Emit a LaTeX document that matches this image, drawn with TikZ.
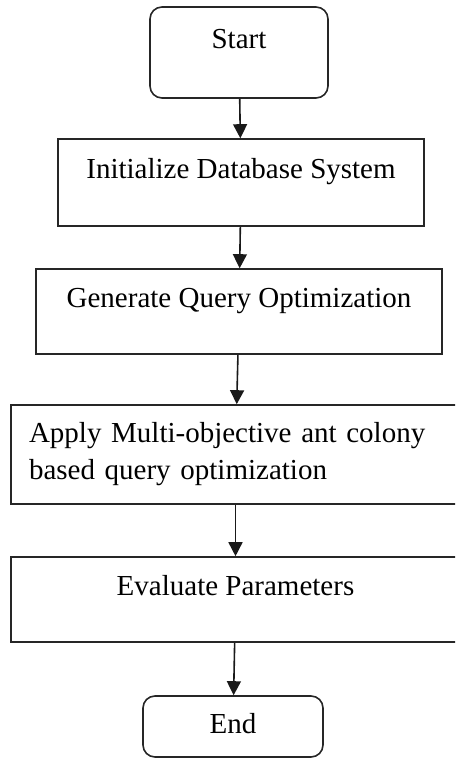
\documentclass[tikz,border=0pt]{standalone}
\usepackage{fontspec}
\setmainfont{Liberation Serif}
\usetikzlibrary{arrows.meta}

\begin{document}
\begin{tikzpicture}[x=0.5pt, y=-0.5pt,
            font=\fontsize{14.5}{18.5}\selectfont,
            stepbox/.style={draw=black!85, line width=0.8pt, rectangle, text height=11pt, text depth=15pt},
            termbox/.style={stepbox, rounded corners=6pt},
            flow/.style={draw=black!90, line width=0.8pt, -{Triangle[length=7pt,width=7pt]}}]
            \useasboundingbox (0, 0) rectangle (455, 758);
            \clip (0, 0) rectangle (455, 758);
            \node[termbox, minimum width=89pt, minimum height=45.5pt] (start) at (239, 52.5) {Start};
            \node[stepbox, minimum width=183pt, minimum height=43.5pt] (init) at (241, 182.5) {Initialize Database System};
            \node[stepbox, minimum width=203pt, minimum height=42.5pt] (gen) at (239, 311.5) {Generate Query Optimization};
            \node[stepbox, minimum width=224.5pt, minimum height=49.5pt, text height=, text depth=, align=left,
                  text width=206.5pt, inner xsep=9pt] (apply) at (235.5, 454.5)
                {Apply Multi-objective ant colony\\based query optimization};
            \node[stepbox, minimum width=224.5pt, minimum height=42.5pt] (eval) at (235.5, 599.5) {Evaluate Parameters};
            \node[termbox, minimum width=90pt, minimum height=30.5pt, text depth=4pt] (stop) at (233, 726.5) {End};
            \draw[flow] (start) -- (init);
            \draw[flow] (init) -- (gen);
            \draw[flow] (gen) -- (apply);
            \draw[flow] (apply) -- (eval);
            \draw[flow] (eval) -- (stop);
        \end{tikzpicture}
\end{document}
